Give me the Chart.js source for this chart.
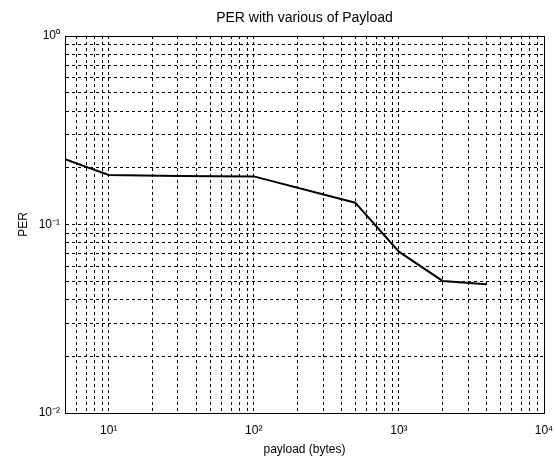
<!DOCTYPE html>
<html>
<head>
<meta charset="utf-8">
<script src="https://cdn.jsdelivr.net/npm/chart.js@4.4.1/dist/chart.umd.min.js"></script>
<style>
  body { margin: 0; background: #fff; }
  #wrap { width: 556px; height: 457px; }
</style>
</head>
<body>
<div id="wrap"><canvas id="perChart" width="556" height="457"></canvas></div>
<script>
// payload sizes (bytes) and measured PER
const payload = [5, 10, 30, 100, 500, 1000, 2000, 4000];
const per = [0.222, 0.183, 0.181, 0.180, 0.1305, 0.0718, 0.0502, 0.0482];

// decades that get a "10^n" label
const xDecades = [1, 2, 3, 4];
const yDecades = [-2, -1, 0];

const xMin = 5, xMax = 10000;
const yMin = 0.01, yMax = 1;

const supDigits = { '0': '⁰', '1': '¹', '2': '²', '3': '³', '4': '⁴', '5': '⁵', '6': '⁶', '7': '⁷', '8': '⁸', '9': '⁹', '-': '⁻' };
function powLabel(n) {
    return '10' + String(n).split('').map(c => supDigits[c]).join('');
}

// every 1..9 x 10^n step between min and max, like matlab's log grid
function logSteps(min, max) {
    let out = [];
    for (let e = Math.floor(Math.log10(min)); e <= Math.ceil(Math.log10(max)); e++) {
        for (let s = 1; s <= 9; s++) {
            let v = s * Math.pow(10, e);
            if (v >= min * 0.999 && v <= max * 1.001) out.push(v);
        }
    }
    return out;
}

function decadeOf(v, decades) {
    let e = Math.round(Math.log10(v));
    if (Math.abs(Math.log10(v) - e) < 1e-6 && decades.includes(e)) return e;
    return null;
}

const font = { family: '"Liberation Sans", Arial, sans-serif', size: 12 };
const titleFont = { family: '"Liberation Sans", Arial, sans-serif', size: 14 };
const gridDash = [3, 3];

let ctx = document.getElementById('perChart').getContext('2d');
let chart = new Chart(ctx, {
    type: 'line',
    data: {
        datasets: [{
            data: payload.map((p, i) => ({ x: p, y: per[i] })),
            borderColor: '#000',
            borderWidth: 2,
            pointRadius: 0,
            fill: false,
            tension: 0
        }]
    },
    options: {
        responsive: false,
        animation: false,
        layout: { padding: 0 },
        plugins: {
            legend: { display: false },
            tooltip: { enabled: false }
        },
        scales: {
            x: {
                type: 'logarithmic',
                position: 'bottom',
                min: xMin,
                max: xMax,
                afterFit: s => {
                    s.height = 44;
                    // let the last label hang over the edge instead of shrinking the plot
                    s.paddingLeft = 0;
                    s.paddingRight = 0;
                },
                afterBuildTicks: s => { s.ticks = logSteps(xMin, xMax).map(v => ({ value: v })); },
                grid: { color: '#000', lineWidth: 1, drawTicks: false },
                border: { display: true, color: '#000', width: 1, dash: gridDash },
                ticks: {
                    autoSkip: false,
                    maxRotation: 0,
                    padding: 10,
                    color: '#000',
                    font: font,
                    callback: v => {
                        let e = decadeOf(v, xDecades);
                        return e === null ? '' : powLabel(e);
                    }
                },
                title: {
                    display: true,
                    text: 'payload (bytes)',
                    color: '#000',
                    font: font,
                    padding: { top: 0, bottom: 0 }
                }
            },
            y: {
                type: 'logarithmic',
                position: 'left',
                min: yMin,
                max: yMax,
                afterFit: s => { s.width = 65; },
                afterBuildTicks: s => { s.ticks = logSteps(yMin, yMax).map(v => ({ value: v })); },
                grid: { color: '#000', lineWidth: 1, drawTicks: false },
                border: { display: true, color: '#000', width: 1, dash: gridDash },
                ticks: {
                    autoSkip: false,
                    padding: 5,
                    color: '#000',
                    font: font,
                    callback: v => {
                        let e = decadeOf(v, yDecades);
                        return e === null ? '' : powLabel(e);
                    }
                },
                title: {
                    display: true,
                    text: 'PER',
                    color: '#000',
                    font: font,
                    padding: { top: 16, bottom: 0 }
                }
            },
            // top and right axes only close the box and carry the title
            x2: {
                type: 'logarithmic',
                position: 'top',
                min: xMin,
                max: xMax,
                afterFit: s => { s.height = 36; },
                grid: { display: false, drawTicks: false },
                border: { display: true, color: '#000', width: 1 },
                ticks: { display: false },
                title: {
                    display: true,
                    text: 'PER with various of Payload',
                    color: '#000',
                    font: titleFont,
                    padding: { top: 10, bottom: 0 }
                }
            },
            y2: {
                type: 'logarithmic',
                position: 'right',
                min: yMin,
                max: yMax,
                afterFit: s => { s.width = 12; },
                grid: { display: false, drawTicks: false },
                border: { display: true, color: '#000', width: 1 },
                ticks: { display: false }
            }
        }
    }
});
</script>
</body>
</html>
